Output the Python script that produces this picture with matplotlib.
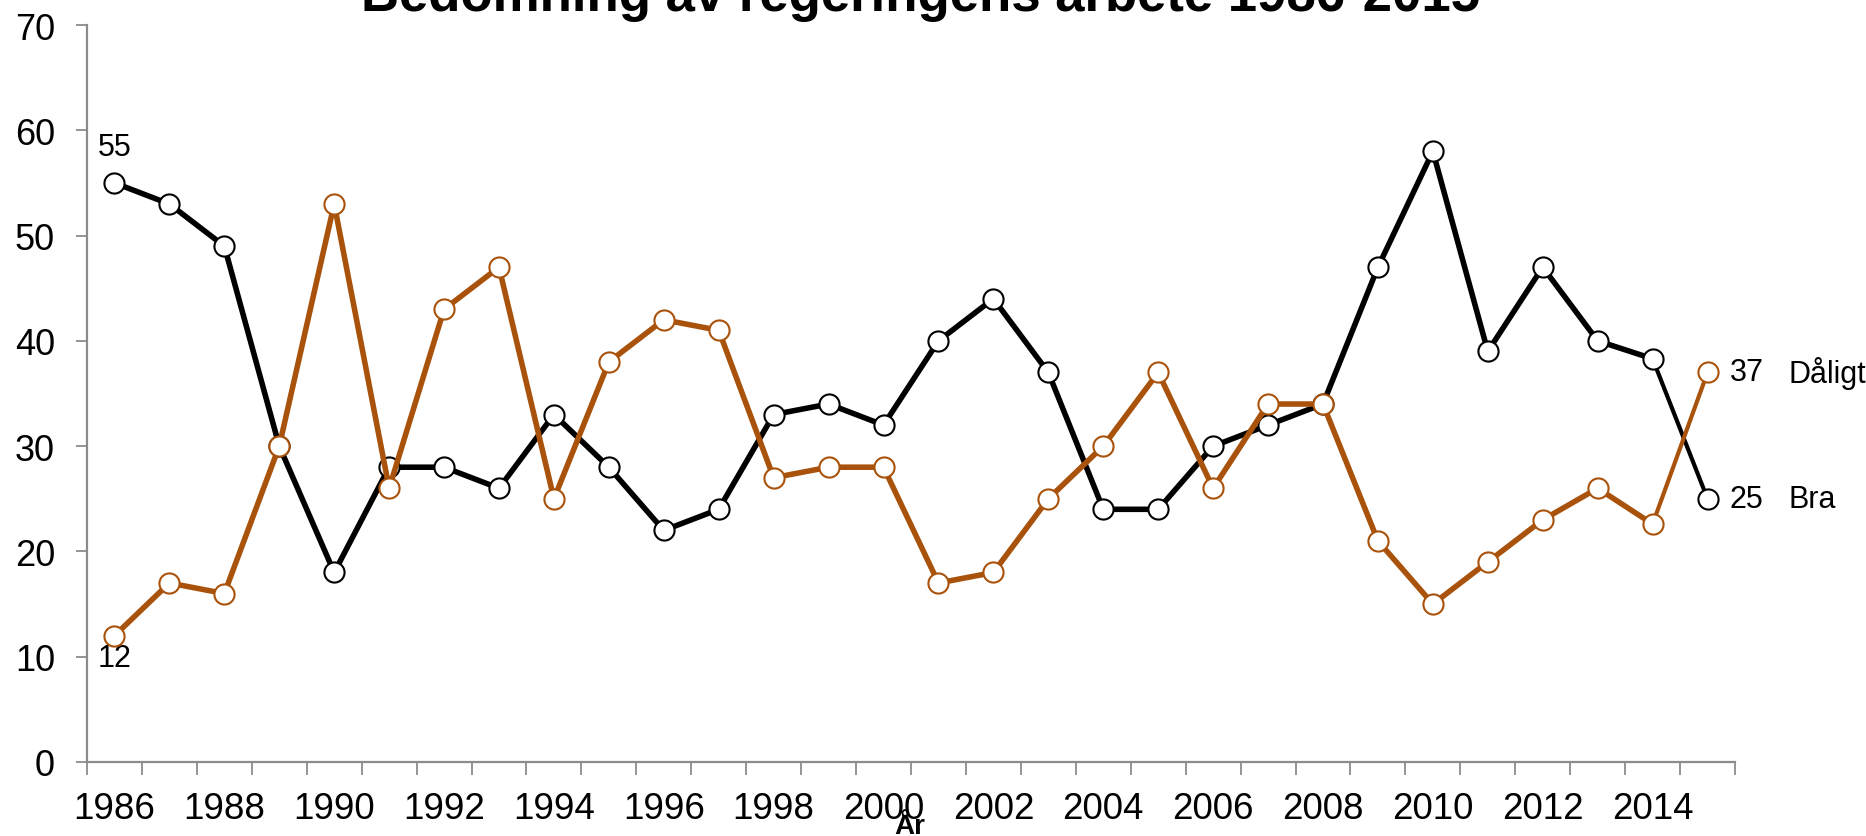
import matplotlib
matplotlib.use("Agg")
import matplotlib.pyplot as plt

plt.rcParams['font.family'] = ['Liberation Sans', 'DejaVu Sans']

years = list(range(1986, 2016))
bra = [55, 53, 49, 30, 18, 28, 28, 26, 33, 28, 22, 24, 33, 34, 32,
       40, 44, 37, 24, 24, 30, 32, 34, 47, 58, 39, 47, 40, 38.3, 25]
daligt = [12, 17, 16, 30, 53, 26, 43, 47, 25, 38, 42, 41, 27, 28, 28,
          17, 18, 25, 30, 37, 26, 34, 34, 21, 15, 19, 23, 26, 22.6, 37]
series_names = ["Bra", "Dåligt"]
title = "Bedömning av regeringens arbete 1986-2015"
xlabel = "År"

black = "#000000"
orange = "#A9520B"
gray = "#8C8C8C"

x = list(range(len(years)))

fig = plt.figure(figsize=(18.66, 8.37), dpi=100)
ax = fig.add_axes([87 / 1866, 1 - 763 / 837, (1735 - 87) / 1866, (763 - 26) / 837])

for vals, col, z in [(bra, black, 3), (daligt, orange, 4)]:
    ax.plot(x[:-1], vals[:-1], color=col, lw=4.0, zorder=z, solid_joinstyle='round')
    ax.plot(x[-2:], vals[-2:], color=col, lw=3.0, zorder=z)
    ax.plot(x, vals, ls='none', marker='o', ms=14.5, mfc='white', mec=col,
            mew=1.5, zorder=z + 0.5)

# data labels
ax.annotate(str(bra[0]), (x[0], bra[0]), xytext=(0, 26), textcoords='offset points',
            ha='center', va='center', fontsize=22)
ax.annotate(str(daligt[0]), (x[0], daligt[0]), xytext=(0, -16), textcoords='offset points',
            ha='center', va='center', fontsize=22)
for vals, name in [(bra, series_names[0]), (daligt, series_names[1])]:
    ax.annotate(f"{vals[-1]:g}", (x[-1], vals[-1]), xytext=(16, 0), textcoords='offset points',
                ha='left', va='center', fontsize=22, annotation_clip=False)
    ax.annotate(name, (x[-1], vals[-1]), xytext=(58, 0), textcoords='offset points',
                ha='left', va='center', fontsize=22, annotation_clip=False)

ax.set_xlim(-0.5, len(years) - 0.5)
ax.set_ylim(0, 70)
ax.set_yticks(range(0, 71, 10))
ax.tick_params(axis='y', labelsize=26, length=8, width=1.3, color=gray, pad=15)

# tick marks between categories, labels every other year
ax.set_xticks([i - 0.5 for i in range(len(years) + 1)])
ax.set_xticklabels([])
ax.set_xticks(x[::2], minor=True)
ax.set_xticklabels([str(y) for y in years[::2]], minor=True)
ax.tick_params(axis='x', which='major', length=9, width=1.3, color=gray)
ax.tick_params(axis='x', which='minor', length=0, labelsize=26.5, pad=21)

for side in ['top', 'right']:
    ax.spines[side].set_visible(False)
for side in ['left', 'bottom']:
    ax.spines[side].set_color(gray)
    ax.spines[side].set_linewidth(1.6)

fig.text(921 / 1866, 1 - 11 / 837, title, ha='center', va='baseline',
         fontsize=38, fontweight='bold')
fig.text(910 / 1866, 1 - 834 / 837, xlabel, ha='center', va='baseline',
         fontsize=20, fontweight='bold')

fig.savefig("out.png", dpi=100)
